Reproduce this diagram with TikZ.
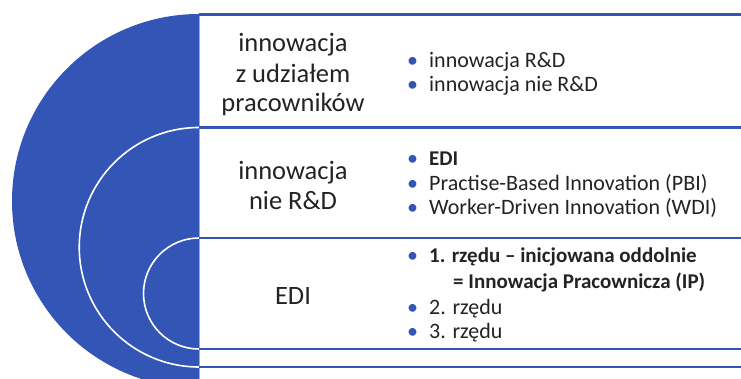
\documentclass[tikz,border=0pt]{standalone}
\usepackage{fontspec}
\setmainfont{Carlito}
\definecolor{panelblue}{RGB}{51,85,181}
\definecolor{edgeblue}{RGB}{150,170,225}
\definecolor{ink}{RGB}{35,35,35}
\newcommand\itembullet{\makebox[22pt][l]{\fontsize{22}{24}\selectfont\textcolor{panelblue}{•}}}
\newcommand\boldentry[1]{{\fontsize{21}{24}\selectfont\bfseries #1}}
\begin{document}
\begin{tikzpicture}[x=1pt,y=1pt,
  bandline/.style={draw=panelblue,line width=2.2pt},
  ringline/.style={draw=white,line width=1.6pt},
  lefttext/.style={anchor=base,inner sep=0pt,font=\fontsize{26.5}{30}\selectfont,text=ink},
  righttext/.style={anchor=base west,inner sep=0pt,font=\fontsize{22}{24}\selectfont,text=ink},
]
\useasboundingbox (0,0) rectangle (741,379);
\clip (0,0) rectangle (741,379);
% nested half discs on the left
\fill[panelblue] (199,365) arc[start angle=90,end angle=270,radius=187] -- cycle;
\draw[ringline] (199,251.5) arc[start angle=90,end angle=270,radius=119.75];
\draw[ringline] (199,141) arc[start angle=90,end angle=270,radius=55.5];
% left edge of the table
\draw[edgeblue,line width=0.9pt] (199.5,365) -- (199.5,0);
% row separators
\foreach \yy in {364.5,251.5,141,30,12}
  \draw[bandline] (199,\yy) -- (741,\yy);
% first row
\node[lefttext] (l1a) at (293,327) {innowacja};
\node[lefttext] (l1b) at (293,296.5) {z udziałem};
\node[lefttext] (l1c) at (293,267) {pracowników};
\node[righttext] (r1a) at (407,311) {\itembullet innowacja R\&D};
\node[righttext] (r1b) at (407,287) {\itembullet innowacja nie R\&D};
% second row
\node[lefttext] (l2a) at (293,199) {innowacja};
\node[lefttext] (l2b) at (293,169.5) {nie R\&D};
\node[righttext] (r2a) at (407,213) {\itembullet\boldentry{EDI}};
\node[righttext] (r2b) at (407,188) {\itembullet Practise-Based Innovation (PBI)};
\node[righttext] (r2c) at (407,164) {\itembullet Worker-Driven Innovation (WDI)};
% third row
\node[lefttext] (l3) at (293,74) {EDI};
\node[righttext] (r3a) at (407,116) {\itembullet\boldentry{1. rzędu – inicjowana oddolnie}};
\node[righttext] (r3b) at (453,90.5) {\boldentry{= Innowacja Pracownicza (IP)}};
\node[righttext] (r3c) at (407,64) {\itembullet 2. rzędu};
\node[righttext] (r3d) at (407,40.5) {\itembullet 3. rzędu};
\end{tikzpicture}
\end{document}
